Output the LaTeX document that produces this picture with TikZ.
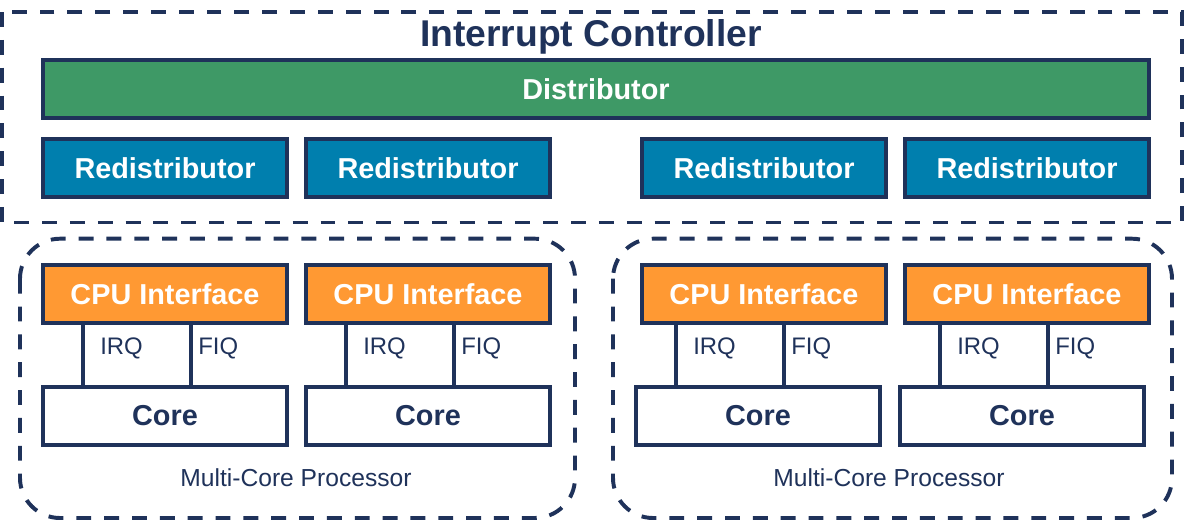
\documentclass[tikz,border=0pt]{standalone}
\usepackage{fontspec}
\setmainfont{Liberation Sans}
\usetikzlibrary{positioning}

\definecolor{navy}{RGB}{31,50,90}
\definecolor{distgreen}{RGB}{62,153,102}
\definecolor{redistblue}{RGB}{0,127,174}
\definecolor{cpuorange}{RGB}{255,153,51}

\tikzset{
  box/.style={draw=navy, line width=2.6pt, minimum width=6.1cm, minimum height=1.45cm,
    inner sep=0pt, text=white, font=\fontsize{20.5}{24}\selectfont\bfseries},
  redist/.style={box, fill=redistblue},
  cpuif/.style={box, fill=cpuorange},
  corebox/.style={box, fill=white, text=navy},
  sig/.style={draw=navy, line width=2.6pt},
  siglabel/.style={anchor=base west, inner sep=0pt, text=navy, font=\fontsize{17}{20}\selectfont},
  group/.style={draw=navy, line width=2.8pt, dash pattern=on 10.6pt off 9.2pt},
}

\begin{document}
\begin{tikzpicture}[x=0.025cm, y=-0.025cm]

\useasboundingbox (0,0) rectangle (1184,521);

% interrupt controller
\draw[group] (2,12) rectangle (1182,222.5);
\node[anchor=base, inner sep=0pt, text=navy, font=\fontsize{26.5}{30}\selectfont\bfseries] (title) at (591,46) {Interrupt Controller};

\node[box, fill=distgreen, minimum width=27.65cm] (dist) at (596,89) {Distributor};

\node[redist] (rd1) at (165,168) {Redistributor};
\node[redist] (rd2) at (428,168) {Redistributor};
\node[redist] (rd3) at (764,168) {Redistributor};
\node[redist] (rd4) at (1027,168) {Redistributor};

% multi-core processors
\draw[group, rounded corners=1cm] (20,238.7) rectangle (575,518);
\draw[group, rounded corners=1cm] (613,238.7) rectangle (1172,518);

\node[anchor=base, inner sep=0pt, text=navy, font=\fontsize{17.5}{20}\selectfont] (mcp1) at (296,486) {Multi-Core Processor};
\node[anchor=base, inner sep=0pt, text=navy, font=\fontsize{17.5}{20}\selectfont] (mcp2) at (889,486) {Multi-Core Processor};

% cpu interfaces
\node[cpuif] (cpu1) at (165,294) {CPU Interface};
\node[cpuif] (cpu2) at (428,294) {CPU Interface};
\node[cpuif] (cpu3) at (764,294) {CPU Interface};
\node[cpuif] (cpu4) at (1027,294) {CPU Interface};

% cores
\node[corebox] (core1) at (165,416) {Core};
\node[corebox] (core2) at (428,416) {Core};
\node[corebox] (core3) at (758,416) {Core};
\node[corebox] (core4) at (1022,416) {Core};

% irq / fiq lines: core to cpu interface
\coordinate[xshift=-2.05cm] (irqb1) at (core1.north);
\coordinate[xshift=0.65cm] (fiqb1) at (core1.north);
\coordinate[xshift=-2.05cm] (irqb2) at (core2.north);
\coordinate[xshift=0.65cm] (fiqb2) at (core2.north);
\coordinate[xshift=-2.05cm] (irqb3) at (core3.north);
\coordinate[xshift=0.65cm] (fiqb3) at (core3.north);
\coordinate[xshift=-2.05cm] (irqb4) at (core4.north);
\coordinate[xshift=0.65cm] (fiqb4) at (core4.north);

\coordinate (irqt1) at (irqb1 |- cpu1.south);
\coordinate (fiqt1) at (fiqb1 |- cpu1.south);
\coordinate (irqt2) at (irqb2 |- cpu2.south);
\coordinate (fiqt2) at (fiqb2 |- cpu2.south);
\coordinate (irqt3) at (irqb3 |- cpu3.south);
\coordinate (fiqt3) at (fiqb3 |- cpu3.south);
\coordinate (irqt4) at (irqb4 |- cpu4.south);
\coordinate (fiqt4) at (fiqb4 |- cpu4.south);

\draw[sig] (irqb1) -- (irqt1);
\draw[sig] (fiqb1) -- (fiqt1);
\draw[sig] (irqb2) -- (irqt2);
\draw[sig] (fiqb2) -- (fiqt2);
\draw[sig] (irqb3) -- (irqt3);
\draw[sig] (fiqb3) -- (fiqt3);
\draw[sig] (irqb4) -- (irqt4);
\draw[sig] (fiqb4) -- (fiqt4);

\node[siglabel] (irq1) at ([xshift=0.425cm, yshift=-0.75cm]irqt1) {IRQ};
\node[siglabel] (fiq1) at ([xshift=0.175cm, yshift=-0.75cm]fiqt1) {FIQ};
\node[siglabel] (irq2) at ([xshift=0.425cm, yshift=-0.75cm]irqt2) {IRQ};
\node[siglabel] (fiq2) at ([xshift=0.175cm, yshift=-0.75cm]fiqt2) {FIQ};
\node[siglabel] (irq3) at ([xshift=0.425cm, yshift=-0.75cm]irqt3) {IRQ};
\node[siglabel] (fiq3) at ([xshift=0.175cm, yshift=-0.75cm]fiqt3) {FIQ};
\node[siglabel] (irq4) at ([xshift=0.425cm, yshift=-0.75cm]irqt4) {IRQ};
\node[siglabel] (fiq4) at ([xshift=0.175cm, yshift=-0.75cm]fiqt4) {FIQ};

\end{tikzpicture}
\end{document}
